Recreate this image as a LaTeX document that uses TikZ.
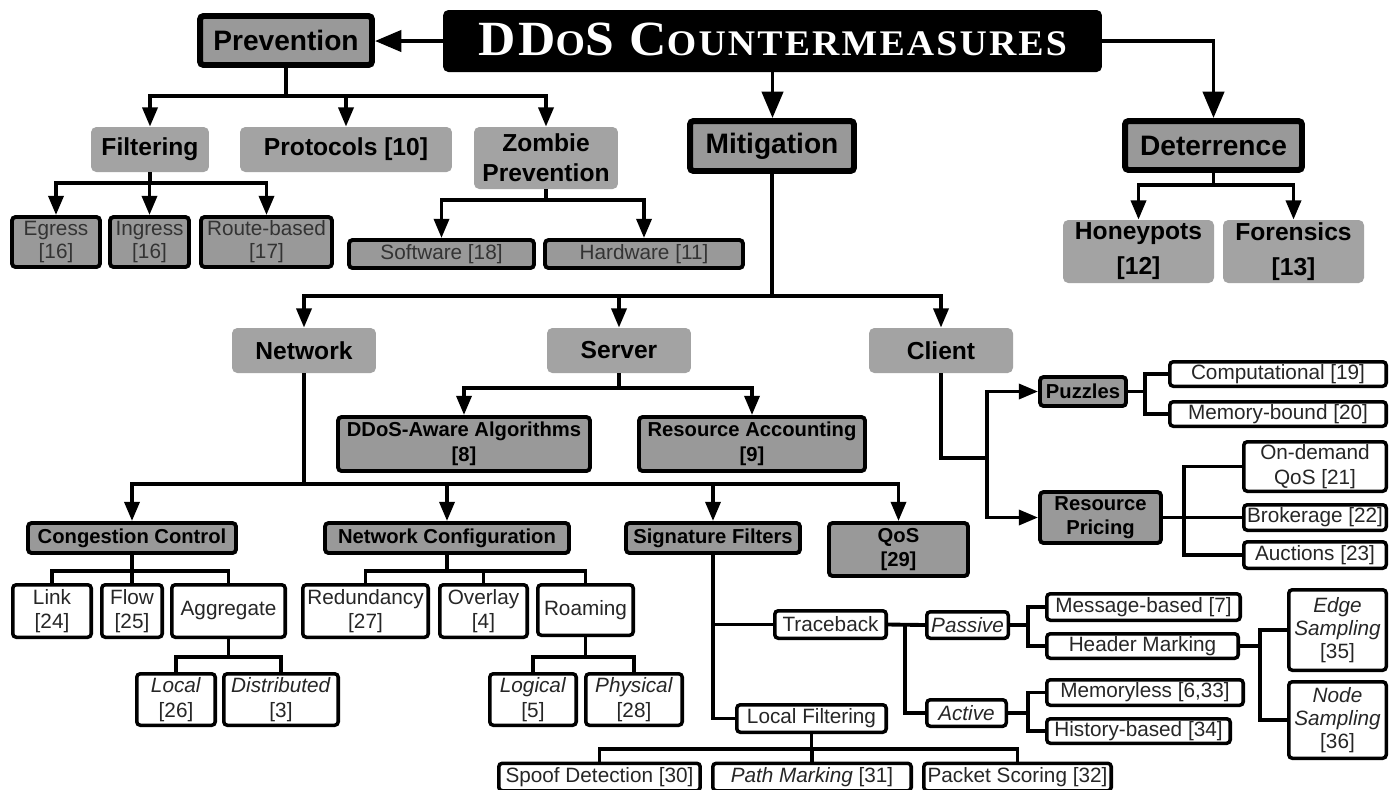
\documentclass[tikz,border=0pt]{standalone}
\usepackage{fontspec}
\setmainfont{Liberation Sans}
\newfontfamily\titlefont[FakeStretch=1.05,LetterSpace=6]{Liberation Serif}
\usetikzlibrary{arrows.meta}
\definecolor{boxgray}{gray}{0.6}
\definecolor{softgray}{gray}{0.64}
\definecolor{darktext}{gray}{0.2}
\begin{document}
\begin{tikzpicture}[x=0.02cm,y=-0.02cm]
\tikzset{
  titlebox/.style={fill=black,text=white,rounded corners=3pt,inner sep=0pt},
  topbox/.style={draw=black,line width=3.4pt,fill=boxgray,rounded corners=2pt,inner sep=0pt,
    font=\fontsize{16}{19}\selectfont\bfseries},
  softbox/.style={fill=softgray,rounded corners=3pt,inner sep=0pt,align=center,
    font=\fontsize{14}{17}\selectfont\bfseries},
  graybox/.style={draw=black,line width=2.2pt,fill=boxgray,rounded corners=2pt,inner sep=0pt,
    align=center,font=\fontsize{11.5}{14}\selectfont\bfseries},
  plainbox/.style={graybox,text=darktext,font=\fontsize{11.8}{13}\selectfont},
  leaf/.style={draw=black,line width=2pt,fill=white,rounded corners=2pt,inner sep=0pt,
    align=center,text=black!85,font=\fontsize{11.8}{14}\selectfont},
  wire/.style={line width=2.2pt},
  arr/.style={wire,-{Triangle[length=11pt,width=8.5pt]}},
  bigarr/.style={wire,-{Triangle[length=15pt,width=12pt]}}
}
\useasboundingbox[fill=white] (0,0) rectangle (1395,789);
% the root and its three branches
\node[titlebox,minimum width=13.18cm,minimum height=1.24cm] (title) at (772.5,41)
  {\raisebox{2.3pt}{\titlefont\bfseries\fontsize{28}{30}\selectfont
   DD{\fontsize{20.5}{22}\selectfont O}S C{\fontsize{20.5}{22}\selectfont OUNTERMEASURES}}};
\node[topbox,minimum width=3.44cm,minimum height=0.98cm] (prev) at (286,40.5) {Prevention};
\node[topbox,minimum width=3.28cm,minimum height=1.0cm] (miti) at (772,146) {Mitigation};
\node[topbox,minimum width=3.54cm,minimum height=0.98cm] (dete) at (1213.5,145.5) {Deterrence};
% second level
\node[softbox,minimum width=2.36cm,minimum height=0.9cm] (filt) at (150,149.5) {Filtering};
\node[softbox,minimum width=4.24cm,minimum height=0.9cm] (prot) at (346,149.5) {Protocols [10]};
\node[softbox,minimum width=2.88cm,minimum height=1.24cm] (zomb) at (546,158) {Zombie\\Prevention};
\node[softbox,minimum width=2.88cm,minimum height=0.9cm] (netw) at (304,350.5) {Network};
\node[softbox,minimum width=2.88cm,minimum height=0.9cm] (serv) at (619,350.5) {Server};
\node[softbox,minimum width=2.88cm,minimum height=0.9cm] (clie) at (941,350.5) {Client};
\node[softbox,minimum width=3.02cm,minimum height=1.26cm,font=\fontsize{14}{20}\selectfont\bfseries]
  (hone) at (1138.5,251.5) {Honeypots\\{[12]}};
\node[softbox,minimum width=2.82cm,minimum height=1.26cm,font=\fontsize{14}{20}\selectfont\bfseries]
  (fore) at (1293.5,251.5) {Forensics\\{[13]}};
% prevention leaves
\node[plainbox,minimum width=1.76cm,minimum height=1.0cm] (egre) at (56,242) {Egress\\{[16]}};
\node[plainbox,minimum width=1.58cm,minimum height=1.0cm] (ingr) at (149.5,242) {Ingress\\{[16]}};
\node[plainbox,minimum width=2.62cm,minimum height=1.0cm] (rout) at (266.5,242) {Route-based\\{[17]}};
\node[plainbox,minimum width=3.7cm,minimum height=0.56cm] (soft) at (441.5,254) {Software [18]};
\node[plainbox,minimum width=3.96cm,minimum height=0.56cm] (hard) at (644,254) {Hardware [11]};
% mitigation, third level
\node[graybox,minimum width=5.04cm,minimum height=1.08cm] (ddos) at (464,444) {DDoS-Aware Algorithms\\{[8]}};
\node[graybox,minimum width=4.52cm,minimum height=1.08cm] (racc) at (752,444) {Resource Accounting\\{[9]}};
\node[graybox,minimum width=4.16cm,minimum height=0.6cm] (cong) at (132,538) {Congestion Control};
\node[graybox,minimum width=4.88cm,minimum height=0.6cm] (ncfg) at (447,538) {Network Configuration};
\node[graybox,minimum width=3.48cm,minimum height=0.6cm] (sigf) at (713,538) {Signature Filters};
\node[graybox,minimum width=2.78cm,minimum height=1.06cm] (qos) at (898.5,549.5) {QoS\\{[29]}};
\node[graybox,minimum width=1.72cm,minimum height=0.58cm] (puzz) at (1083,391.5) {Puzzles};
\node[graybox,minimum width=2.42cm,minimum height=1.02cm] (rpri) at (1100.5,517.5) {Resource\\Pricing};
% congestion control and configuration
\node[leaf,minimum width=1.57cm,minimum height=1.05cm] (link) at (52,611) {Link\\{[24]}};
\node[leaf,minimum width=1.21cm,minimum height=1.05cm] (flow) at (132,611) {Flow\\{[25]}};
\node[leaf,minimum width=2.27cm,minimum height=1.05cm] (aggr) at (228.5,611) {Aggregate};
\node[leaf,minimum width=1.57cm,minimum height=1.03cm] (locl) at (176,699.5) {\textit{Local}\\{[26]}};
\node[leaf,minimum width=2.29cm,minimum height=1.03cm] (dist) at (281,699.5) {\textit{Distributed}\\{[3]}};
\node[leaf,minimum width=2.51cm,minimum height=1.05cm] (redu) at (365.5,611) {Redundancy\\{[27]}};
\node[leaf,minimum width=1.75cm,minimum height=1.05cm] (over) at (483.5,611) {Overlay\\{[4]}};
\node[leaf,minimum width=1.91cm,minimum height=1.01cm] (roam) at (585.5,610) {Roaming};
\node[leaf,minimum width=1.73cm,minimum height=1.03cm] (logi) at (533,699.5) {\textit{Logical}\\{[5]}};
\node[leaf,minimum width=1.93cm,minimum height=1.03cm] (phys) at (634,699.5) {\textit{Physical}\\{[28]}};
% signature filters
\node[leaf,minimum width=2.23cm,minimum height=0.55cm] (trac) at (830.5,624.5) {Traceback};
\node[leaf,minimum width=2.99cm,minimum height=0.55cm] (lfil) at (811.5,718.5) {Local Filtering};
\node[leaf,minimum width=4.03cm,minimum height=0.55cm] (spoo) at (599.5,777) {Spoof Detection [30]};
\node[leaf,minimum width=3.97cm,minimum height=0.55cm] (pmrk) at (812,777) {\textit{Path Marking} [31]};
\node[leaf,minimum width=3.75cm,minimum height=0.55cm] (pack) at (1017.5,777) {Packet Scoring [32]};
\node[leaf,minimum width=1.63cm,minimum height=0.53cm] (pass) at (967.5,625) {\textit{Passive}};
\node[leaf,minimum width=1.59cm,minimum height=0.53cm] (acti) at (966.5,713) {\textit{Active}};
\node[leaf,minimum width=3.87cm,minimum height=0.53cm] (mess) at (1143.5,607) {Message-based [7]};
\node[leaf,minimum width=3.83cm,minimum height=0.49cm] (head) at (1142.5,646) {Header Marking};
\node[leaf,minimum width=3.93cm,minimum height=0.51cm] (memo) at (1145,692.5) {Memoryless [6,33]};
\node[leaf,minimum width=3.67cm,minimum height=0.49cm] (hist) at (1138.5,731) {History-based [34]};
\node[leaf,minimum width=1.95cm,minimum height=1.61cm,font=\fontsize{11.8}{13}\selectfont]
  (esam) at (1337.5,630) {\textit{Edge}\\\textit{Sampling}\\{[35]}};
\node[leaf,minimum width=1.95cm,minimum height=1.53cm,font=\fontsize{11.8}{13}\selectfont]
  (nsam) at (1337.5,720) {\textit{Node}\\\textit{Sampling}\\{[36]}};
% client side
\node[leaf,minimum width=4.33cm,minimum height=0.49cm] (comp) at (1278,374) {Computational [19]};
\node[leaf,minimum width=4.33cm,minimum height=0.49cm] (memb) at (1278,414) {Memory-bound [20]};
\node[leaf,minimum width=2.85cm,minimum height=0.99cm] (onde) at (1315,466.5) {On-demand\\QoS [21]};
\node[leaf,minimum width=2.85cm,minimum height=0.51cm] (brok) at (1315,517.5) {Brokerage [22]};
\node[leaf,minimum width=2.85cm,minimum height=0.53cm] (auct) at (1315,555) {Auctions [23]};

% connectors from the root
\draw[bigarr] (title.west) -- (title.west -| prev.east);
\draw[bigarr] (title.south) -- (title.south |- miti.north);
\draw[bigarr] (title.east) -| (dete.north);
% prevention
\draw[wire] (prev.south) -- ++(0,28) coordinate (pj);
\foreach \c in {filt,prot,zomb} { \draw[arr] (pj) -| (\c.north); }
\draw[wire] (filt.south) -- ++(0,11) coordinate (fj);
\foreach \c in {egre,ingr,rout} { \draw[arr] (fj) -| (\c.north); }
\draw[wire] (zomb.south) -- ++(0,11) coordinate (zj);
\foreach \c in {soft,hard} { \draw[arr] (zj) -| (\c.north); }
% deterrence
\draw[wire] (dete.south) -- ++(0,12) coordinate (dj);
\foreach \c in {hone,fore} { \draw[arr] (dj) -| (\c.north); }
% mitigation
\draw[wire] (miti.south) -- ++(0,122) coordinate (mj);
\foreach \c in {netw,serv,clie} { \draw[arr] (mj) -| (\c.north); }
\draw[wire] (serv.south) -- ++(0,15) coordinate (sj);
\foreach \c in {ddos,racc} { \draw[arr] (sj) -| (\c.north); }
\draw[wire] (netw.south) -- ++(0,111) coordinate (nj);
\foreach \c in {cong,ncfg,sigf,qos} { \draw[arr] (nj) -| (\c.north); }
% plain tree lines below
\draw[wire] (cong.south) -- ++(0,16) coordinate (cj);
\foreach \c in {link,flow,aggr} { \draw[wire] (cj) -| (\c.north); }
\draw[wire] (aggr.south) -- ++(0,18) coordinate (aj);
\foreach \c in {locl,dist} { \draw[wire] (aj) -| (\c.north); }
\draw[wire] (ncfg.south) -- ++(0,16) coordinate (gj);
\foreach \c in {redu,over,roam} { \draw[wire] (gj) -| (\c.north); }
\draw[wire] (roam.south) -- ++(0,20) coordinate (rj);
\foreach \c in {logi,phys} { \draw[wire] (rj) -| (\c.north); }
% signature filters
\draw[wire] (sigf.south) |- (lfil.west);
\draw[wire] (sigf.south |- trac.west) -- (trac.west);
\draw[wire] (lfil.south) -- ++(0,15) coordinate (lj);
\foreach \c in {spoo,pmrk,pack} { \draw[wire] (lj) -| (\c.north); }
\draw[wire] (trac.east) -- (pass.west);
\draw[wire] (trac.east) ++(17,0) |- (acti.west);
\draw[wire] (pass.east) -- ++(18,0) coordinate (qj);
\foreach \c in {mess,head} { \draw[wire] (qj) |- (\c.west); }
\draw[wire] (acti.east) -- ++(20,0) coordinate (vj);
\foreach \c in {memo,hist} { \draw[wire] (vj) |- (\c.west); }
\draw[wire] (head.east) -- ++(20,0) coordinate (hj);
\foreach \c in {esam,nsam} { \draw[wire] (hj) |- (\c.west); }
% client
\draw[wire] (clie.south) |- ++(46,85) coordinate (kj);
\foreach \c in {puzz,rpri} { \draw[arr] (kj) |- (\c.west); }
\draw[wire] (puzz.east) -- ++(17,0) coordinate (uj);
\foreach \c in {comp,memb} { \draw[wire] (uj) |- (\c.west); }
\draw[wire] (rpri.east) -- (brok.west);
\path (rpri.east) ++(21,0) coordinate (ej);
\foreach \c in {onde,auct} { \draw[wire] (ej) |- (\c.west); }
\end{tikzpicture}
\end{document}
